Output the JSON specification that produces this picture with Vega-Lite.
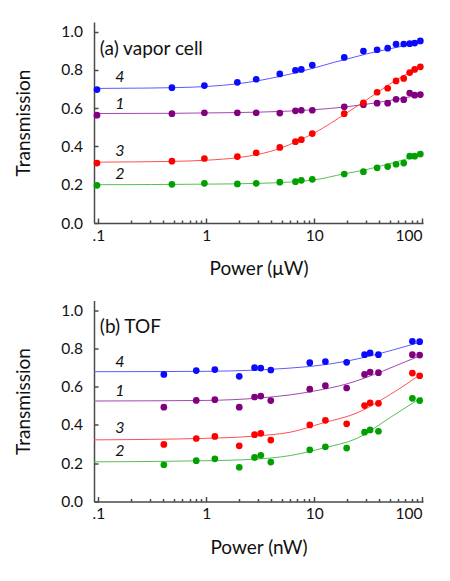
{
  "$schema": "https://vega.github.io/schema/vega-lite/v6.json",
  "padding": {"left": 14, "top": 22, "right": 10, "bottom": 5},
  "spacing": 21.5,
  "config": {
    "font": "Lato",
    "view": {"stroke": null},
    "axis": {
      "grid": false,
      "domainColor": "#4a4a4a",
      "domainWidth": 1.5,
      "tickColor": "#4a4a4a",
      "tickWidth": 1.5,
      "labelColor": "#111111",
      "labelFontSize": 15.5,
      "labelFont": "Lato",
      "titleFont": "Lato",
      "titleFontSize": 19,
      "titleFontWeight": "normal",
      "titleColor": "#111111"
    }
  },
  "datasets": {
    "pa": [
      {"s":"4","x":0.097,"y":0.697},{"s":"4","x":0.48,"y":0.707},{"s":"4","x":0.96,"y":0.718},{"s":"4","x":1.94,"y":0.735},{"s":"4","x":2.9,"y":0.751},{"s":"4","x":4.8,"y":0.779},{"s":"4","x":6.7,"y":0.798},{"s":"4","x":7.6,"y":0.802},{"s":"4","x":9.6,"y":0.825},{"s":"4","x":19,"y":0.865},{"s":"4","x":28.6,"y":0.898},{"s":"4","x":38.3,"y":0.905},{"s":"4","x":48,"y":0.913},{"s":"4","x":57.4,"y":0.934},{"s":"4","x":67.6,"y":0.935},{"s":"4","x":76.8,"y":0.937},{"s":"4","x":85.4,"y":0.94},{"s":"4","x":96.4,"y":0.951},
      {"s":"1","x":0.097,"y":0.563},{"s":"1","x":0.48,"y":0.571},{"s":"1","x":0.96,"y":0.576},{"s":"1","x":1.94,"y":0.576},{"s":"1","x":2.9,"y":0.576},{"s":"1","x":4.8,"y":0.574},{"s":"1","x":6.7,"y":0.586},{"s":"1","x":7.6,"y":0.589},{"s":"1","x":9.6,"y":0.589},{"s":"1","x":19,"y":0.607},{"s":"1","x":28.6,"y":0.618},{"s":"1","x":38.3,"y":0.626},{"s":"1","x":48,"y":0.626},{"s":"1","x":57.4,"y":0.646},{"s":"1","x":67.6,"y":0.644},{"s":"1","x":76.8,"y":0.679},{"s":"1","x":85.4,"y":0.668},{"s":"1","x":96.4,"y":0.671},
      {"s":"3","x":0.097,"y":0.313},{"s":"3","x":0.48,"y":0.323},{"s":"3","x":0.96,"y":0.337},{"s":"3","x":1.94,"y":0.347},{"s":"3","x":2.9,"y":0.367},{"s":"3","x":4.8,"y":0.395},{"s":"3","x":6.7,"y":0.425},{"s":"3","x":7.6,"y":0.435},{"s":"3","x":9.6,"y":0.467},{"s":"3","x":19,"y":0.571},{"s":"3","x":28.6,"y":0.628},{"s":"3","x":38.3,"y":0.683},{"s":"3","x":48,"y":0.704},{"s":"3","x":57.4,"y":0.742},{"s":"3","x":67.6,"y":0.755},{"s":"3","x":76.8,"y":0.786},{"s":"3","x":85.4,"y":0.802},{"s":"3","x":96.4,"y":0.816},
      {"s":"2","x":0.097,"y":0.197},{"s":"2","x":0.48,"y":0.202},{"s":"2","x":0.96,"y":0.207},{"s":"2","x":1.94,"y":0.204},{"s":"2","x":2.9,"y":0.207},{"s":"2","x":4.8,"y":0.213},{"s":"2","x":6.7,"y":0.216},{"s":"2","x":7.6,"y":0.223},{"s":"2","x":9.6,"y":0.228},{"s":"2","x":19,"y":0.256},{"s":"2","x":28.6,"y":0.268},{"s":"2","x":38.3,"y":0.288},{"s":"2","x":48,"y":0.295},{"s":"2","x":57.4,"y":0.307},{"s":"2","x":67.6,"y":0.313},{"s":"2","x":76.8,"y":0.349},{"s":"2","x":85.4,"y":0.349},{"s":"2","x":96.4,"y":0.36}
    ],
    "la": [
      {"s":"4","x":0.097,"y":0.703},{"s":"4","x":0.3,"y":0.705},{"s":"4","x":0.5,"y":0.707},{"s":"4","x":1,"y":0.713},{"s":"4","x":2,"y":0.728},{"s":"4","x":3,"y":0.743},{"s":"4","x":5,"y":0.768},{"s":"4","x":7,"y":0.787},{"s":"4","x":10,"y":0.81},{"s":"4","x":15,"y":0.838},{"s":"4","x":20,"y":0.856},{"s":"4","x":30,"y":0.882},{"s":"4","x":50,"y":0.91},{"s":"4","x":70,"y":0.927},{"s":"4","x":100,"y":0.945},
      {"s":"1","x":0.097,"y":0.572},{"s":"1","x":0.5,"y":0.573},{"s":"1","x":1,"y":0.575},{"s":"1","x":3,"y":0.579},{"s":"1","x":5,"y":0.583},{"s":"1","x":10,"y":0.592},{"s":"1","x":20,"y":0.607},{"s":"1","x":30,"y":0.62},{"s":"1","x":50,"y":0.64},{"s":"1","x":70,"y":0.655},{"s":"1","x":100,"y":0.67},
      {"s":"3","x":0.097,"y":0.318},{"s":"3","x":0.5,"y":0.322},{"s":"3","x":1,"y":0.328},{"s":"3","x":2,"y":0.342},{"s":"3","x":3,"y":0.358},{"s":"3","x":5,"y":0.393},{"s":"3","x":7,"y":0.428},{"s":"3","x":10,"y":0.47},{"s":"3","x":20,"y":0.575},{"s":"3","x":30,"y":0.64},{"s":"3","x":50,"y":0.725},{"s":"3","x":70,"y":0.775},{"s":"3","x":100,"y":0.82},
      {"s":"2","x":0.097,"y":0.2},{"s":"2","x":1,"y":0.203},{"s":"2","x":3,"y":0.207},{"s":"2","x":6,"y":0.214},{"s":"2","x":10,"y":0.225},{"s":"2","x":19,"y":0.257},{"s":"2","x":30,"y":0.278},{"s":"2","x":50,"y":0.31},{"s":"2","x":70,"y":0.333},{"s":"2","x":100,"y":0.365}
    ],
    "ta": [
      {"t":"4","x":0.158,"y":0.762},{"t":"1","x":0.158,"y":0.622},{"t":"3","x":0.158,"y":0.375},{"t":"2","x":0.158,"y":0.257}
    ],
    "pb": [
      {"s":"4","x":0.404,"y":0.664},{"s":"4","x":0.807,"y":0.684},{"s":"4","x":1.2,"y":0.689},{"s":"4","x":2.02,"y":0.654},{"s":"4","x":2.8,"y":0.699},{"s":"4","x":3.2,"y":0.697},{"s":"4","x":3.96,"y":0.687},{"s":"4","x":9.1,"y":0.725},{"s":"4","x":12.7,"y":0.731},{"s":"4","x":20,"y":0.727},{"s":"4","x":29.3,"y":0.767},{"s":"4","x":33,"y":0.776},{"s":"4","x":39.4,"y":0.767},{"s":"4","x":81.3,"y":0.837},{"s":"4","x":95,"y":0.835},
      {"s":"1","x":0.404,"y":0.493},{"s":"1","x":0.807,"y":0.528},{"s":"1","x":1.2,"y":0.532},{"s":"1","x":2.02,"y":0.493},{"s":"1","x":2.8,"y":0.546},{"s":"1","x":3.2,"y":0.551},{"s":"1","x":3.96,"y":0.527},{"s":"1","x":9.1,"y":0.587},{"s":"1","x":12.7,"y":0.605},{"s":"1","x":20,"y":0.593},{"s":"1","x":29.3,"y":0.664},{"s":"1","x":33,"y":0.676},{"s":"1","x":39.4,"y":0.673},{"s":"1","x":81.3,"y":0.767},{"s":"1","x":95,"y":0.765},
      {"s":"3","x":0.404,"y":0.298},{"s":"3","x":0.807,"y":0.329},{"s":"3","x":1.2,"y":0.34},{"s":"3","x":2.02,"y":0.291},{"s":"3","x":2.8,"y":0.349},{"s":"3","x":3.2,"y":0.356},{"s":"3","x":3.96,"y":0.321},{"s":"3","x":9.1,"y":0.4},{"s":"3","x":12.7,"y":0.424},{"s":"3","x":20,"y":0.406},{"s":"3","x":29.3,"y":0.501},{"s":"3","x":33,"y":0.515},{"s":"3","x":39.4,"y":0.513},{"s":"3","x":81.3,"y":0.671},{"s":"3","x":95,"y":0.657},
      {"s":"2","x":0.404,"y":0.192},{"s":"2","x":0.807,"y":0.213},{"s":"2","x":1.2,"y":0.223},{"s":"2","x":2.02,"y":0.179},{"s":"2","x":2.8,"y":0.23},{"s":"2","x":3.2,"y":0.241},{"s":"2","x":3.96,"y":0.206},{"s":"2","x":9.1,"y":0.27},{"s":"2","x":12.7,"y":0.286},{"s":"2","x":20,"y":0.279},{"s":"2","x":29.3,"y":0.362},{"s":"2","x":33,"y":0.374},{"s":"2","x":39.4,"y":0.367},{"s":"2","x":81.3,"y":0.539},{"s":"2","x":95,"y":0.527}
    ],
    "lb": [
      {"s":"4","x":0.091,"y":0.678},{"s":"4","x":1,"y":0.68},{"s":"4","x":3,"y":0.687},{"s":"4","x":6,"y":0.697},{"s":"4","x":10,"y":0.708},{"s":"4","x":20,"y":0.733},{"s":"4","x":40,"y":0.772},{"s":"4","x":70,"y":0.81},{"s":"4","x":100,"y":0.835},
      {"s":"1","x":0.091,"y":0.525},{"s":"1","x":1,"y":0.528},{"s":"1","x":3,"y":0.54},{"s":"1","x":6,"y":0.557},{"s":"1","x":10,"y":0.577},{"s":"1","x":20,"y":0.614},{"s":"1","x":44,"y":0.683},{"s":"1","x":70,"y":0.73},{"s":"1","x":100,"y":0.765},
      {"s":"3","x":0.091,"y":0.322},{"s":"3","x":1,"y":0.33},{"s":"3","x":3,"y":0.343},{"s":"3","x":6,"y":0.362},{"s":"3","x":12,"y":0.41},{"s":"3","x":25,"y":0.463},{"s":"3","x":51,"y":0.56},{"s":"3","x":100,"y":0.67},
      {"s":"2","x":0.091,"y":0.207},{"s":"2","x":1,"y":0.213},{"s":"2","x":3,"y":0.222},{"s":"2","x":6,"y":0.24},{"s":"2","x":12.3,"y":0.28},{"s":"2","x":25,"y":0.33},{"s":"2","x":51,"y":0.44},{"s":"2","x":100,"y":0.545}
    ],
    "tb": [
      {"t":"4","x":0.158,"y":0.729},{"t":"1","x":0.158,"y":0.578},{"t":"3","x":0.158,"y":0.384},{"t":"2","x":0.158,"y":0.266}
    ]
  },
  "vconcat": [
    {
      "width": 329,
      "height": 201,
      "layer": [
        {
          "data": {"name": "la"},
          "mark": {"type": "line", "interpolate": "monotone", "strokeWidth": 1},
          "encoding": {
            "x": {"field": "x", "type": "quantitative", "scale": {"type": "log", "domain": [0.091, 102], "nice": false},
              "axis": {"orient": "bottom", "values": [0.2,0.3,0.4,0.5,0.6,0.7,0.8,0.9,2,3,4,5,6,7,8,9,20,30,40,50,60,70,80,90], "labels": false, "domain": false, "tickSize": -3, "title": null}},
            "y": {"field": "y", "type": "quantitative", "scale": {"domain": [0, 1.05], "nice": false},
              "axis": {"values": [0,0.2,0.4,0.6,0.8,1.0], "format": ".1f", "tickSize": -4, "labelPadding": 15.6, "title": "Transmission", "titlePadding": 27.5}},
            "color": {"field": "s", "type": "nominal", "legend": null,
              "scale": {"domain": ["4","1","3","2"], "range": ["#5b5bff","#a04aae","#ff5050","#55c055"]}}
          }
        },
        {
          "data": {"name": "pa"},
          "mark": {"type": "circle", "size": 45, "opacity": 1},
          "encoding": {
            "x": {"field": "x", "type": "quantitative",
              "axis": {"orient": "bottom", "values": [0.1,1,10,100], "labelExpr": "datum.value < 0.5 ? '.1' : format(datum.value, 'd')", "tickSize": -5, "labelPadding": 10, "title": "Power (μW)", "titlePadding": 16}},
            "y": {"field": "y", "type": "quantitative"},
            "color": {"field": "s", "type": "nominal", "legend": null,
              "scale": {"domain": ["4","1","3","2"], "range": ["#0a0aff","#800080","#ff0000","#00a000"]}}
          }
        },
        {
          "data": {"name": "ta"},
          "mark": {"type": "text", "fontStyle": "italic", "fontSize": 16, "align": "center", "baseline": "middle", "color": "#111111"},
          "encoding": {
            "x": {"field": "x", "type": "quantitative", "axis": null},
            "y": {"field": "y", "type": "quantitative"},
            "text": {"field": "t"}
          }
        },
        {
          "data": {"values": [{"t": "(a) vapor cell", "x": 0.103, "y": 0.91}]},
          "mark": {"type": "text", "fontSize": 19, "align": "left", "baseline": "middle", "color": "#111111"},
          "encoding": {
            "x": {"field": "x", "type": "quantitative", "axis": null},
            "y": {"field": "y", "type": "quantitative"},
            "text": {"field": "t"}
          }
        }
      ],
      "resolve": {"axis": {"x": "independent"}, "scale": {"color": "independent"}}
    },
    {
      "width": 329,
      "height": 201,
      "layer": [
        {
          "data": {"name": "lb"},
          "mark": {"type": "line", "interpolate": "monotone", "strokeWidth": 1},
          "encoding": {
            "x": {"field": "x", "type": "quantitative", "scale": {"type": "log", "domain": [0.091, 102], "nice": false},
              "axis": {"orient": "bottom", "values": [0.2,0.3,0.4,0.5,0.6,0.7,0.8,0.9,2,3,4,5,6,7,8,9,20,30,40,50,60,70,80,90], "labels": false, "domain": false, "tickSize": -3, "title": null}},
            "y": {"field": "y", "type": "quantitative", "scale": {"domain": [0, 1.05], "nice": false},
              "axis": {"values": [0,0.2,0.4,0.6,0.8,1.0], "format": ".1f", "tickSize": -4, "labelPadding": 15.6, "title": "Transmission", "titlePadding": 27.5}},
            "color": {"field": "s", "type": "nominal", "legend": null,
              "scale": {"domain": ["4","1","3","2"], "range": ["#5b5bff","#a04aae","#ff5050","#55c055"]}}
          }
        },
        {
          "data": {"name": "pb"},
          "mark": {"type": "circle", "size": 45, "opacity": 1},
          "encoding": {
            "x": {"field": "x", "type": "quantitative",
              "axis": {"orient": "bottom", "values": [0.1,1,10,100], "labelExpr": "datum.value < 0.5 ? '.1' : format(datum.value, 'd')", "tickSize": -5, "labelPadding": 10, "title": "Power (nW)", "titlePadding": 16}},
            "y": {"field": "y", "type": "quantitative"},
            "color": {"field": "s", "type": "nominal", "legend": null,
              "scale": {"domain": ["4","1","3","2"], "range": ["#0a0aff","#800080","#ff0000","#00a000"]}}
          }
        },
        {
          "data": {"name": "tb"},
          "mark": {"type": "text", "fontStyle": "italic", "fontSize": 16, "align": "center", "baseline": "middle", "color": "#111111"},
          "encoding": {
            "x": {"field": "x", "type": "quantitative", "axis": null},
            "y": {"field": "y", "type": "quantitative"},
            "text": {"field": "t"}
          }
        },
        {
          "data": {"values": [{"t": "(b) TOF", "x": 0.103, "y": 0.91}]},
          "mark": {"type": "text", "fontSize": 19, "align": "left", "baseline": "middle", "color": "#111111"},
          "encoding": {
            "x": {"field": "x", "type": "quantitative", "axis": null},
            "y": {"field": "y", "type": "quantitative"},
            "text": {"field": "t"}
          }
        }
      ],
      "resolve": {"axis": {"x": "independent"}, "scale": {"color": "independent"}}
    }
  ]
}
